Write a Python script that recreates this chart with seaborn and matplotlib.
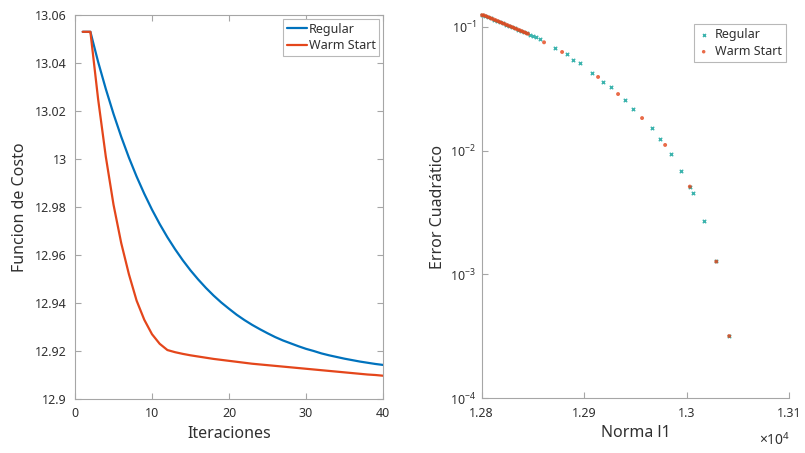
import numpy as np
import pandas as pd
import matplotlib
matplotlib.use("Agg")
import matplotlib.pyplot as plt
from matplotlib.ticker import FuncFormatter, NullLocator, FixedLocator
import seaborn as sns

# ---------------- data ----------------
iteraciones = list(range(1, 41))

costo_regular = [
    13.0530, 13.0530, 13.0405, 13.0292, 13.0188, 13.0093, 13.0006, 12.9927,
    12.9855, 12.9789, 12.9729, 12.9674, 12.9624, 12.9578, 12.9536, 12.9498,
    12.9463, 12.9431, 12.9402, 12.9376, 12.9351, 12.9329, 12.9309, 12.9291,
    12.9274, 12.9258, 12.9244, 12.9232, 12.9220, 12.9209, 12.9200, 12.9190,
    12.9182, 12.9175, 12.9168, 12.9162, 12.9156, 12.9151, 12.9146, 12.9142,
]

costo_warm = [
    13.0530, 13.0530, 13.0250, 13.0010, 12.9810, 12.9650, 12.9520, 12.9410,
    12.9330, 12.9270, 12.9230, 12.9204, 12.9195, 12.9188, 12.9182, 12.9177,
    12.9172, 12.9167, 12.9163, 12.9159, 12.9155, 12.9151, 12.9147, 12.9144,
    12.9141, 12.9138, 12.9135, 12.9132, 12.9129, 12.9126, 12.9123, 12.9120,
    12.9117, 12.9114, 12.9111, 12.9108, 12.9105, 12.9102, 12.9100, 12.9097,
]

norma_regular = [
    12800.3, 12803.2, 12806.1, 12809.1, 12812.0, 12814.9, 12817.8, 12820.8,
    12823.7, 12826.6, 12829.6, 12832.5, 12835.4, 12838.3, 12841.3, 12844.2,
    12847.1, 12850.0, 12853.0, 12856.9, 12871.5, 12883.2, 12889.1, 12895.9,
    12907.6, 12918.3, 12926.1, 12939.8, 12947.6, 12966.1, 12973.9, 12984.6,
    12994.4, 13003.2, 13006.1, 13016.8, 13028.5, 13041.2,
]
error_regular = [
    0.1240, 0.1225, 0.1198, 0.1169, 0.1143, 0.1116, 0.1089, 0.1065,
    0.1039, 0.1017, 0.0993, 0.0969, 0.0947, 0.0925, 0.0905, 0.0883,
    0.0862, 0.0843, 0.0826, 0.0803, 0.0673, 0.0602, 0.0538, 0.0509,
    0.0423, 0.0358, 0.0326, 0.0256, 0.0217, 0.0152, 0.0124, 0.00939,
    0.00684, 0.00508, 0.00455, 0.00270, 0.00129, 0.000319,
]

norma_warm = [
    12800.3, 12802.2, 12804.2, 12806.1, 12808.1, 12810.0, 12812.0, 12813.9,
    12815.9, 12817.8, 12819.7, 12821.7, 12823.7, 12825.6, 12827.6, 12829.6,
    12831.5, 12833.4, 12835.4, 12837.4, 12839.3, 12841.3, 12843.2, 12845.2,
    12860.8, 12878.4, 12913.5, 12933.0, 12956.4, 12978.9, 13003.0, 13028.8,
    13041.4,
]
error_warm = [
    0.1240, 0.1235, 0.1216, 0.1197, 0.1178, 0.1160, 0.1142, 0.1125,
    0.1107, 0.1090, 0.1073, 0.1057, 0.1040, 0.1024, 0.1008, 0.0993,
    0.0977, 0.0962, 0.0947, 0.0933, 0.0918, 0.0904, 0.0890, 0.0876,
    0.0748, 0.0625, 0.0393, 0.0286, 0.0183, 0.0111, 0.00512, 0.00127,
    0.000318,
]

series = ["Regular", "Warm Start"]
xticks_norma = [12800, 12900, 13000, 13100]

# ---------------- styling ----------------
sns.set_theme(style="white")
plt.rcParams["font.family"] = ["Noto Sans", "DejaVu Sans"]
plt.rcParams["mathtext.fontset"] = "custom"
plt.rcParams["mathtext.rm"] = "Noto Sans"
plt.rcParams["mathtext.default"] = "regular"

TXT = "#303030"
SPINE = "#a6a6a6"
BLUE = "#0072BD"
RED = "#E4461B"
TEAL = "#3bb3ad"

fig = plt.figure(figsize=(8.05, 4.53), dpi=100)
W, H = 805, 453
ax1 = fig.add_axes([75 / W, 1 - 399 / H, (383 - 75) / W, (399 - 15) / H])
ax2 = fig.add_axes([481.7 / W, 1 - 398.3 / H, (789.3 - 481.7) / W, (398.3 - 15) / H])

# ---------------- left: cost per iteration ----------------
df_costo = pd.DataFrame({
    "Iteraciones": iteraciones * 2,
    "Costo": costo_regular + costo_warm,
    "Serie": [series[0]] * len(iteraciones) + [series[1]] * len(iteraciones),
})
sns.lineplot(data=df_costo, x="Iteraciones", y="Costo", hue="Serie",
             palette=[BLUE, RED], linewidth=1.6, ax=ax1)

ax1.set_xlim(0, 40)
ax1.set_ylim(12.9, 13.06)
ax1.set_xticks([0, 10, 20, 30, 40])
ax1.set_yticks([12.9, 12.92, 12.94, 12.96, 12.98, 13.0, 13.02, 13.04, 13.06])
ax1.yaxis.set_major_formatter(FuncFormatter(lambda v, p: f"{v:g}"))
ax1.set_xlabel("Iteraciones", fontsize=11.5, color=TXT, labelpad=4)
ax1.set_ylabel("Funcion de Costo", fontsize=11.5, color=TXT, labelpad=5)
for s in ax1.spines.values():
    s.set_visible(True)
    s.set_color(SPINE)
    s.set_linewidth(0.8)
ax1.tick_params(direction="in", length=4, width=0.8, color=SPINE,
                labelsize=9, labelcolor=TXT, top=True, right=True,
                left=True, bottom=True, pad=6)
leg1 = ax1.legend(loc="upper right", bbox_to_anchor=(1.0, 1.0), borderaxespad=0.3,
                  fontsize=9, frameon=True, fancybox=False, framealpha=1,
                  edgecolor="#b8b8b8", handlelength=1.6, handletextpad=0.15,
                  borderpad=0.3, labelspacing=0.3, title=None)
leg1.get_frame().set_linewidth(0.8)
for t in leg1.get_texts():
    t.set_color(TXT)

# ---------------- right: error vs l1 norm ----------------
df_reg = pd.DataFrame({"Norma": norma_regular, "Error": error_regular})
df_warm = pd.DataFrame({"Norma": norma_warm, "Error": error_warm})
sns.scatterplot(data=df_reg, x="Norma", y="Error", marker="x", s=6,
                color=TEAL, linewidth=1.0, ax=ax2, label=series[0],
                clip_on=False, zorder=3)
sns.scatterplot(data=df_warm, x="Norma", y="Error", marker="o", s=8,
                color=RED, edgecolor="none", alpha=0.8, ax=ax2,
                label=series[1], clip_on=False, zorder=4)

ax2.set_yscale("log")
ax2.set_xlim(12800, 13100)
ax2.set_ylim(1e-4, 0.1243)
ax2.xaxis.set_major_locator(FixedLocator(xticks_norma))
ax2.xaxis.set_major_formatter(FuncFormatter(lambda v, p: f"{v / 1e4:g}"))
ax2.yaxis.set_major_locator(FixedLocator([1e-4, 1e-3, 1e-2, 1e-1]))
ax2.yaxis.set_minor_locator(NullLocator())
ax2.set_xlabel("Norma l1", fontsize=11.5, color=TXT, labelpad=4)
ax2.set_ylabel("Error Cuadrático", fontsize=11.5, color=TXT, labelpad=3)
for side in ("top", "right"):
    ax2.spines[side].set_visible(False)
for side in ("left", "bottom"):
    ax2.spines[side].set_color(SPINE)
    ax2.spines[side].set_linewidth(0.8)
ax2.tick_params(direction="in", length=4, width=0.8, color=SPINE,
                labelsize=9, labelcolor=TXT, left=True, bottom=True, pad=6)
ax2.tick_params(axis="y", pad=4)
leg2 = ax2.legend(loc="upper right", bbox_to_anchor=(1.0, 0.985), borderaxespad=0.3,
                  fontsize=9, frameon=True, fancybox=False, framealpha=1,
                  edgecolor="#b8b8b8", handlelength=1.0, handletextpad=0.4,
                  borderpad=0.3, labelspacing=0.3, markerscale=0.9)
leg2.get_frame().set_linewidth(0.8)
for t in leg2.get_texts():
    t.set_color(TXT)

fig.text(790 / W, 1 - 441 / H, r"$\times10^{4}$", ha="right", va="center",
         fontsize=10, color=TXT)

fig.savefig("out.png", dpi=100, facecolor="white")
